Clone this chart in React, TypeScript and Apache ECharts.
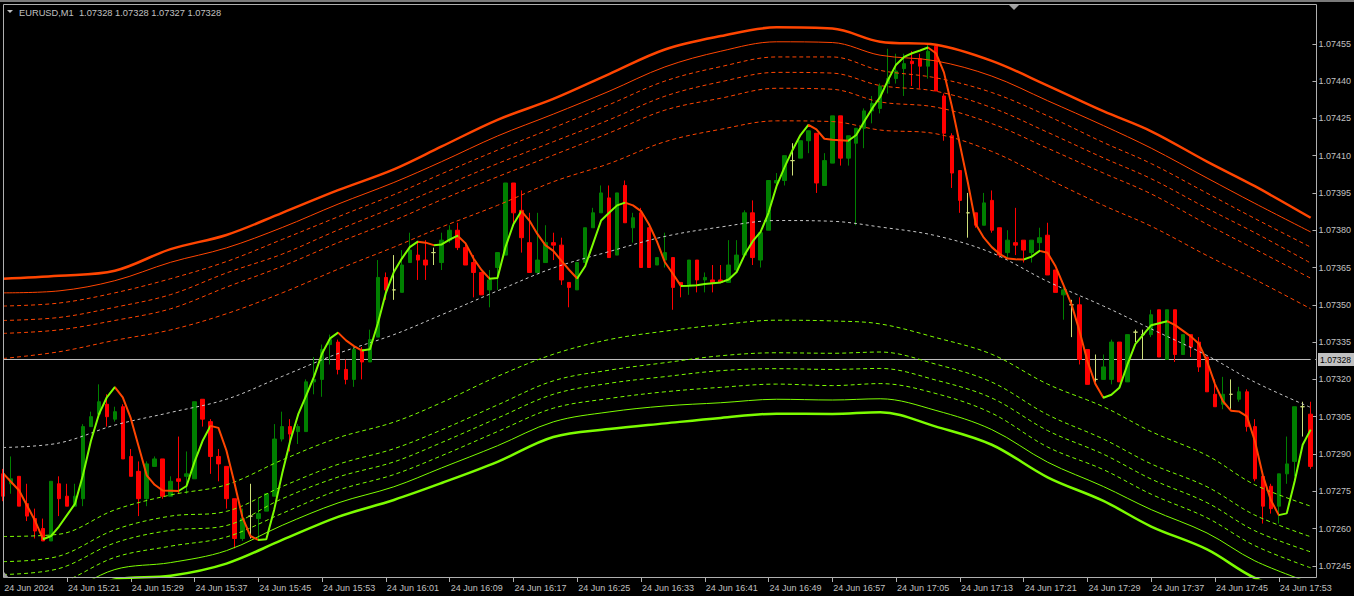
import { useEffect, useRef } from "react";
import * as echarts from "echarts";

// ---------- header / axis texts ----------
const HEADER_TEXT = "EURUSD,M1  1.07328 1.07328 1.07327 1.07328";
const DATE_LABEL = "24 Jun 2024";
const DAY_PREFIX = "24 Jun ";
const FIRST_BAR_MINUTE = 15 * 60 + 13; // 15:13, one M1 bar per category
const BAR_COUNT = 165;
const TIMES: string[] = [];
for (let i = 0; i < BAR_COUNT; i++) {
  const m = FIRST_BAR_MINUTE + i;
  TIMES.push(`${Math.floor(m / 60)}:${String(m % 60).padStart(2, "0")}`);
}
const Y_TICKS = [
  1.07245, 1.0726, 1.07275, 1.0729, 1.07305, 1.0732, 1.07335, 1.0735, 1.07365,
  1.0738, 1.07395, 1.0741, 1.07425, 1.0744, 1.07455,
];
const CURRENT_PRICE = 1.07328;
const Y_MIN = 1.072401;
const Y_MAX = 1.074708;

// ---------- candles (M1) ----------
const OPEN = [
  1.07282,1.07278,1.07281,1.0727,1.07264,1.0726,1.07255,1.07278,1.07273,1.07269,
  1.07272,1.07301,1.07306,1.0731,1.07304,1.07309,1.07289,1.07283,1.07272,1.07285,
  1.07288,1.07273,1.0728,1.07281,1.0728,1.07312,1.07303,1.07289,1.07285,1.07272,
  1.07256,1.07265,1.07264,1.07267,1.07273,1.07296,1.07301,1.07299,1.07299,1.07319,
  1.0732,1.07334,1.07335,1.07324,1.0732,1.07332,1.07327,1.07337,1.07361,1.07356,
  1.07355,1.07367,1.0737,1.07368,1.07371,1.07367,1.07376,1.0738,1.07373,1.07367,
  1.07363,1.07356,1.07365,1.0737,1.07399,1.07388,1.07375,1.07363,1.07367,1.07375,
  1.07374,1.07359,1.07356,1.07367,1.07381,1.07387,1.07393,1.0737,1.07398,1.07381,
  1.07387,1.07381,1.07366,1.07368,1.07369,1.07359,1.07358,1.07368,1.0736,1.0736,
  1.0736,1.07359,1.07364,1.0737,1.07387,1.07368,1.0738,1.07399,1.074,1.07408,
  1.07409,1.07416,1.07419,1.07398,1.07407,1.07426,1.07409,1.07415,1.07421,1.07428,
  1.07429,1.07439,1.07441,1.07445,1.07448,1.07449,1.07446,1.07454,1.07434,1.07418,
  1.07404,1.07387,1.07387,1.07382,1.07392,1.07381,1.07371,1.07375,1.07376,1.07371,
  1.07375,1.07378,1.07364,1.07354,1.0735,1.0735,1.07332,1.0732,1.0732,1.0732,
  1.07335,1.07319,1.07339,1.07338,1.07338,1.07348,1.07328,1.07348,1.0733,1.07338,
  1.07335,1.07329,1.07314,1.0731,1.07314,1.07312,1.07315,1.07301,1.07281,1.07277,
  1.07269,1.07282,1.07287,1.07309,1.07306,
];
const CLOSE = [
  1.07273,1.0728,1.07269,1.07265,1.07259,1.07255,1.07279,1.07272,1.07269,1.07273,
  1.07301,1.07305,1.07311,1.07305,1.07307,1.07288,1.07281,1.07272,1.07286,1.07288,
  1.07273,1.07279,1.07279,1.07282,1.07311,1.07304,1.07289,1.07286,1.07272,1.07256,
  1.07264,1.07265,1.07266,1.07274,1.07296,1.07301,1.07298,1.07301,1.07319,1.0732,
  1.07332,1.07336,1.07324,1.0732,1.07332,1.07327,1.07336,1.07361,1.07356,1.07356,
  1.07366,1.07372,1.07368,1.07366,1.07371,1.07376,1.0738,1.07373,1.07366,1.07363,
  1.07354,1.0736,1.07371,1.07399,1.07387,1.07377,1.07363,1.07368,1.07375,1.07374,
  1.0736,1.07357,1.07367,1.07381,1.07387,1.07395,1.07369,1.07395,1.07383,1.07385,
  1.07365,1.07365,1.07369,1.07371,1.07357,1.07358,1.07368,1.0736,1.07361,1.07359,
  1.07359,1.07366,1.0737,1.07387,1.07369,1.07379,1.074,1.074,1.0741,1.07408,
  1.07416,1.0742,1.07399,1.07408,1.07426,1.07409,1.07418,1.07421,1.07428,1.07431,
  1.07438,1.07441,1.07444,1.07447,1.07447,1.07446,1.07452,1.07436,1.07419,1.07403,
  1.07392,1.07387,1.07382,1.07391,1.0738,1.0737,1.07376,1.07374,1.07372,1.07376,
  1.07377,1.07362,1.07355,1.07356,1.0735,1.07328,1.07318,1.0732,1.07325,1.07335,
  1.07319,1.07338,1.07339,1.07338,1.07346,1.07329,1.07348,1.0733,1.07338,1.07333,
  1.07325,1.07315,1.07309,1.07314,1.07314,1.07315,1.07301,1.0728,1.07269,1.07268,
  1.07282,1.07286,1.07309,1.07309,1.07285,
];
const LOW = [
  1.07271,1.07274,1.07269,1.07263,1.07256,1.07255,1.07255,1.07265,1.07269,1.07269,
  1.07269,1.07301,1.07305,1.07301,1.07303,1.07288,1.07281,1.07265,1.07269,1.07285,
  1.07272,1.07273,1.07274,1.07274,1.0728,1.07301,1.07282,1.07279,1.07268,1.07252,
  1.07255,1.07256,1.07255,1.07267,1.07273,1.07295,1.07291,1.07294,1.07299,1.07314,
  1.07313,1.07326,1.07322,1.07318,1.07317,1.0732,1.07327,1.07337,1.07352,1.07352,
  1.07355,1.07367,1.0736,1.0736,1.07366,1.07364,1.07375,1.07372,1.07366,1.07353,
  1.07354,1.07349,1.07356,1.0737,1.07382,1.07371,1.07363,1.07363,1.07367,1.07368,
  1.07358,1.07349,1.07356,1.07367,1.07381,1.07387,1.07369,1.0737,1.07383,1.07375,
  1.07365,1.07365,1.07366,1.07365,1.07348,1.07353,1.07354,1.07355,1.07355,1.07355,
  1.07359,1.07359,1.07364,1.0737,1.07366,1.07365,1.0738,1.07398,1.07398,1.07402,
  1.07409,1.07411,1.07395,1.07398,1.07407,1.07406,1.07406,1.07382,1.07413,1.07423,
  1.07427,1.07435,1.07439,1.07434,1.07438,1.07437,1.07441,1.07436,1.07416,1.07397,
  1.07387,1.07377,1.07381,1.07382,1.07379,1.07369,1.07369,1.0737,1.07367,1.07367,
  1.07372,1.07362,1.07355,1.07344,1.07337,1.07326,1.07318,1.07319,1.0732,1.07318,
  1.07319,1.07319,1.07335,1.07328,1.07337,1.07329,1.07328,1.07327,1.0733,1.07329,
  1.07323,1.07315,1.07309,1.07308,1.07308,1.07311,1.07299,1.07279,1.07262,1.07266,
  1.07262,1.07278,1.07281,1.07297,1.07284,
];
const HIGH = [
  1.07284,1.07289,1.07281,1.07278,1.07268,1.07264,1.07279,1.07281,1.07278,1.07278,
  1.07302,1.07307,1.07318,1.07314,1.07309,1.0731,1.07292,1.07287,1.07287,1.07289,
  1.07288,1.07281,1.07297,1.07291,1.07311,1.07312,1.07304,1.07292,1.07285,1.07272,
  1.07268,1.07278,1.07272,1.07274,1.07302,1.07307,1.07304,1.07302,1.0732,1.07329,
  1.07334,1.07338,1.07336,1.07328,1.07333,1.07333,1.0734,1.07368,1.07363,1.0737,
  1.07372,1.07379,1.07375,1.07376,1.07373,1.07379,1.07382,1.07383,1.07375,1.0737,
  1.07363,1.07364,1.07371,1.07399,1.07399,1.07396,1.07387,1.07387,1.07382,1.07379,
  1.07377,1.07359,1.07367,1.07381,1.07389,1.07398,1.07398,1.07395,1.074,1.07387,
  1.07389,1.07381,1.07369,1.07379,1.07369,1.07359,1.07368,1.07368,1.07363,1.07366,
  1.07366,1.07376,1.07376,1.07388,1.07392,1.07379,1.074,1.07403,1.0741,1.07415,
  1.07416,1.0742,1.07419,1.07411,1.07426,1.07426,1.07418,1.07421,1.07429,1.07434,
  1.07439,1.07453,1.07451,1.07451,1.07452,1.07451,1.07455,1.07454,1.07435,1.07419,
  1.07404,1.07395,1.07387,1.07395,1.07396,1.07381,1.0738,1.07389,1.07376,1.07376,
  1.07381,1.07383,1.07364,1.07357,1.07352,1.07353,1.07332,1.0733,1.0733,1.07336,
  1.07335,1.07338,1.0734,1.0734,1.07348,1.07348,1.07348,1.07348,1.07338,1.07338,
  1.07337,1.07329,1.0732,1.07321,1.0732,1.07317,1.07316,1.07304,1.07281,1.07278,
  1.07282,1.07297,1.07309,1.07311,1.07311,
];

// ---------- smoothed trend line (one value per bar) ----------
const TREND = [
  1.072822,1.072787,1.072753,1.072692,1.072631,1.072557,1.07257,1.072608,1.072654,1.072699,
  1.072814,1.072952,1.073059,1.073128,1.073169,1.073128,1.073044,1.072929,1.072814,1.072776,
  1.072753,1.072752,1.072751,1.072771,1.072868,1.072952,1.073013,1.073005,1.072914,1.072784,
  1.072646,1.07257,1.072554,1.072557,1.072677,1.072822,1.072952,1.073059,1.073135,1.073212,
  1.073304,1.073365,1.073388,1.073357,1.073334,1.073316,1.073321,1.073426,1.073548,1.073632,
  1.073686,1.073732,1.073754,1.07375,1.07374,1.073743,1.073762,1.073778,1.073747,1.073686,
  1.07364,1.073605,1.073608,1.073732,1.073824,1.073877,1.073839,1.073785,1.07374,1.073717,
  1.073678,1.07364,1.073606,1.073655,1.073747,1.073839,1.07387,1.0739,1.073911,1.0739,
  1.073877,1.073824,1.073755,1.073671,1.073625,1.073576,1.073577,1.073579,1.073584,1.073587,
  1.07359,1.073602,1.073632,1.073701,1.073755,1.073793,1.07387,1.073977,1.074053,1.074122,
  1.074183,1.074224,1.074206,1.074168,1.074164,1.074162,1.07416,1.074183,1.074237,1.07429,
  1.074336,1.074405,1.074466,1.074497,1.074512,1.074523,1.074535,1.074512,1.074435,1.074298,
  1.074145,1.073992,1.073824,1.07377,1.073732,1.073704,1.073686,1.073683,1.073682,1.073694,
  1.073717,1.073709,1.073655,1.073579,1.073502,1.073395,1.073273,1.073181,1.073126,1.073138,
  1.073166,1.073258,1.073342,1.07338,1.073418,1.073426,1.073434,1.073418,1.073395,1.073372,
  1.073342,1.073273,1.073181,1.073112,1.073074,1.073071,1.073051,1.072952,1.072814,1.072715,
  1.072654,1.072661,1.072791,1.072937,1.072998,
];

// ---------- channel lines, read at these bar indexes ----------
const BAND_X = [0,7,14,21,28,35,42,49,55,62,69,76,83,90,97,104,110,117,124,131,138,144,151,157,164];
const UPPER_1 = [1.073605,1.073617,1.073637,1.073724,1.073781,1.07387,1.073961,1.074045,1.074137,1.074244,1.074328,1.074428,1.074527,1.074581,1.074616,1.074611,1.074558,1.074546,1.074481,1.074382,1.074279,1.074198,1.074076,1.073977,1.07385];
const UPPER_2 = [1.073548,1.073556,1.073597,1.073671,1.073729,1.073811,1.073905,1.073992,1.074076,1.074179,1.074267,1.074359,1.074457,1.07452,1.074558,1.074555,1.074504,1.074481,1.07442,1.074321,1.074221,1.07413,1.07401,1.073908,1.073793];
const UPPER_3 = [1.073495,1.073507,1.073548,1.073605,1.073674,1.073763,1.073854,1.073943,1.074027,1.074122,1.074212,1.074305,1.0744,1.074458,1.074497,1.074497,1.074443,1.074413,1.074354,1.07426,1.074153,1.074068,1.073949,1.073847,1.073732];
const UPPER_4 = [1.073437,1.073449,1.07349,1.073541,1.073628,1.073704,1.073801,1.073892,1.073974,1.074068,1.074156,1.074244,1.074339,1.074397,1.074435,1.074432,1.074382,1.074359,1.074293,1.074194,1.074091,1.074007,1.073888,1.07379,1.073668];
const UPPER_5 = [1.073385,1.073399,1.073437,1.073484,1.073571,1.073655,1.07375,1.073839,1.073923,1.074015,1.074102,1.074191,1.074283,1.074331,1.074371,1.074367,1.074316,1.074295,1.074229,1.07413,1.07403,1.073946,1.073824,1.073724,1.073607];
const UPPER_6 = [1.073284,1.073311,1.073357,1.073399,1.073464,1.073548,1.073643,1.073732,1.073813,1.0739,1.073995,1.074068,1.074156,1.074206,1.07424,1.074237,1.074203,1.074188,1.074117,1.074007,1.0739,1.073816,1.073698,1.073602,1.073484];
const CENTER = [1.072926,1.072944,1.073016,1.073067,1.07312,1.073212,1.073304,1.07338,1.07346,1.073556,1.073648,1.073714,1.073775,1.073813,1.073839,1.073836,1.073813,1.073778,1.073709,1.073594,1.073495,1.073403,1.073296,1.073189,1.073087];
const LOWER_1 = [1.072568,1.072577,1.072675,1.072735,1.072776,1.072876,1.072965,1.073028,1.073107,1.073212,1.073301,1.07336,1.073394,1.07342,1.073438,1.073435,1.073423,1.073368,1.073301,1.073181,1.07309,1.07299,1.072894,1.072776,1.07269];
const LOWER_2 = [1.072467,1.072489,1.072595,1.07265,1.072669,1.072769,1.072858,1.072921,1.072997,1.073097,1.073194,1.073237,1.073267,1.073295,1.073307,1.073305,1.07331,1.073261,1.073189,1.073058,1.07296,1.07286,1.072768,1.072654,1.072567];
const LOWER_3 = [1.072415,1.072439,1.072542,1.072593,1.072612,1.07272,1.072807,1.072868,1.072946,1.073044,1.07314,1.073184,1.073211,1.073235,1.073243,1.07324,1.073244,1.073197,1.073125,1.072994,1.072899,1.072799,1.072704,1.072591,1.072506];
const LOWER_4 = [1.072357,1.072381,1.072484,1.072529,1.072566,1.072661,1.072754,1.072817,1.072893,1.07299,1.073084,1.073123,1.07315,1.073168,1.073181,1.073175,1.073183,1.073143,1.073064,1.072928,1.072837,1.072738,1.072643,1.072531,1.072442];
const LOWER_5 = [1.072304,1.072332,1.072435,1.072463,1.072511,1.072613,1.072703,1.072768,1.072844,1.072933,1.073029,1.073069,1.073093,1.073106,1.07312,1.073117,1.073122,1.073075,1.072998,1.072867,1.072769,1.072676,1.072582,1.07247,1.072381];
const LOWER_6 = [1.072247,1.072271,1.072395,1.07241,1.072459,1.072554,1.072647,1.072715,1.072783,1.072868,1.072968,1.073,1.073023,1.073045,1.073062,1.073061,1.073068,1.07301,1.072937,1.072806,1.072711,1.072608,1.072516,1.072401,1.072324];

// ---------- styling ----------
const BG = "#000000";
const TEXT = "#c0c0c0";
const FRAME = "#b0b0b0";
const BULL = "#008000";
const BEAR = "#ff0000";
const DOJI = "#cfe07a";
const UP_LINE = "#7cfc00";
const DOWN_LINE = "#ff4500";
const CENTER_LINE = "#c8c8c8";
const PRICE_LINE = "#c0c0c0";
const FONT = "Liberation Sans, Arial, sans-serif";

const GRID_LEFT = 3.2;
const GRID_TOP = 4.5;
const GRID_W = 1312;
const GRID_H = 573.5;

function band(values: number[]) {
  return BAND_X.map((x, k) => [x, values[k]]);
}

function bandSeries(values: number[], color: string, width: number, type: any) {
  return {
    type: "line",
    data: band(values),
    symbol: "none",
    smooth: 0.35,
    silent: true,
    lineStyle: { color, width, type },
    z: 3,
  };
}

export default function App() {
  const ref = useRef<HTMLDivElement>(null);

  useEffect(() => {
    if (!ref.current) return;
    const chart = echarts.init(ref.current, null, { renderer: "svg" });

    const candles = OPEN.map((o, i) => {
      const v = [o, CLOSE[i], LOW[i], HIGH[i]];
      if (o === CLOSE[i]) {
        return {
          value: v,
          itemStyle: { color: DOJI, color0: DOJI, borderColor: DOJI, borderColor0: DOJI },
        };
      }
      return { value: v };
    });

    // colour runs of the trend line: rising green, falling red
    const pieces: any[] = [];
    let start = 0;
    let dir = TREND[1] >= TREND[0] ? 1 : -1;
    for (let j = 1; j < TREND.length - 1; j++) {
      const d = TREND[j + 1] >= TREND[j] ? 1 : -1;
      if (d !== dir) {
        pieces.push({ gte: start, lt: j, color: dir > 0 ? UP_LINE : DOWN_LINE });
        start = j;
        dir = d;
      }
    }
    pieces.push({ gte: start, lte: TREND.length, color: dir > 0 ? UP_LINE : DOWN_LINE });

    const dash: any = [4, 3];
    const series: any[] = [
      {
        type: "line",
        data: [[0, CURRENT_PRICE], [BAR_COUNT - 1, CURRENT_PRICE]],
        symbol: "none",
        silent: true,
        lineStyle: { color: PRICE_LINE, width: 1, type: "solid" },
        z: 1,
      },
      {
        type: "candlestick",
        data: candles,
        barWidth: 4,
        itemStyle: {
          color: BULL,
          color0: BEAR,
          borderColor: BULL,
          borderColor0: BEAR,
          borderWidth: 1,
        },
        z: 2,
      },
      bandSeries(UPPER_1, DOWN_LINE, 2.5, "solid"),
      bandSeries(UPPER_2, DOWN_LINE, 1, "solid"),
      bandSeries(UPPER_3, DOWN_LINE, 1, dash),
      bandSeries(UPPER_4, DOWN_LINE, 1, dash),
      bandSeries(UPPER_5, DOWN_LINE, 1, dash),
      bandSeries(UPPER_6, DOWN_LINE, 1, dash),
      bandSeries(CENTER, CENTER_LINE, 1, [3, 3]),
      bandSeries(LOWER_1, UP_LINE, 1, dash),
      bandSeries(LOWER_2, UP_LINE, 1, dash),
      bandSeries(LOWER_3, UP_LINE, 1, dash),
      bandSeries(LOWER_4, UP_LINE, 1, dash),
      bandSeries(LOWER_5, UP_LINE, 1, "solid"),
      bandSeries(LOWER_6, UP_LINE, 2.5, "solid"),
    ];
    const trendIndex = series.length;
    series.push({
      type: "line",
      data: TREND,
      symbol: "none",
      silent: true,
      lineStyle: { width: 2 },
      z: 4,
    });

    const baseGraphic: any[] = [
      { id: "topbar", type: "rect", shape: { x: 0, y: 0, width: 1354, height: 2 }, style: { fill: "#7a7a7a" }, z: 100 },
      {
        id: "frame",
        type: "rect",
        shape: { x: 3.5, y: 4.5, width: 1313, height: 573 },
        style: { fill: "none", stroke: FRAME, lineWidth: 1 },
        z: 100,
      },
      {
        id: "menu",
        type: "polygon",
        shape: { points: [[7, 10], [13, 10], [10, 13]] },
        style: { fill: TEXT },
        z: 100,
      },
      {
        id: "header",
        type: "text",
        x: 19,
        y: 12.5,
        style: { text: HEADER_TEXT, fill: TEXT, font: `9.3px ${FONT}`, verticalAlign: "middle", align: "left" },
        z: 100,
      },
      {
        id: "shift",
        type: "polygon",
        shape: { points: [[1009, 5], [1019, 5], [1014, 10]] },
        style: { fill: "#a0a0a0" },
        z: 100,
      },
      {
        id: "corner",
        type: "polygon",
        shape: { points: [[4, 572], [4, 578], [9, 578]] },
        style: { fill: "#a0a0a0" },
        z: 100,
      },
    ];

    chart.setOption({
      animation: false,
      backgroundColor: BG,
      grid: { left: GRID_LEFT, top: GRID_TOP, width: GRID_W, height: GRID_H, containLabel: false },
      xAxis: {
        type: "category",
        data: TIMES,
        boundaryGap: false,
        axisLine: { show: false },
        axisTick: {
          show: true,
          interval: (i: number) => i >= 8 && (i - 8) % 8 === 0,
          length: 4,
          lineStyle: { color: FRAME },
        },
        axisLabel: {
          interval: (i: number) => i === 0 || (i >= 8 && (i - 8) % 8 === 0),
          formatter: (v: string, i: number) => (i === 0 ? DATE_LABEL : DAY_PREFIX + v),
          align: "left",
          color: TEXT,
          fontSize: 9,
          fontFamily: FONT,
          margin: 5,
          padding: [0, 0, 0, 1],
        },
        splitLine: { show: false },
      },
      yAxis: {
        type: "value",
        position: "right",
        min: Y_MIN,
        max: Y_MAX,
        offset: 1.8,
        axisLine: { show: false },
        axisTick: { show: true, customValues: Y_TICKS, length: 4, lineStyle: { color: FRAME } },
        axisLabel: {
          customValues: Y_TICKS,
          formatter: (v: number) => v.toFixed(5),
          color: TEXT,
          fontSize: 9,
          fontFamily: FONT,
          margin: 6,
        },
        splitLine: { show: false },
      },
      visualMap: {
        show: false,
        type: "piecewise",
        seriesIndex: trendIndex,
        dimension: 0,
        pieces,
      },
      series,
      graphic: baseGraphic,
    });

    // current-price tag on the price scale, placed through the y axis scale
    const py = chart.convertToPixel({ yAxisIndex: 0 }, CURRENT_PRICE) as number;
    chart.setOption({
      graphic: [
        ...baseGraphic,
        {
          id: "priceLineExt",
          type: "line",
          shape: { x1: GRID_LEFT + GRID_W, y1: Math.round(py) + 0.5, x2: 1317, y2: Math.round(py) + 0.5 },
          style: { stroke: PRICE_LINE, lineWidth: 1 },
          z: 90,
        },
        {
          id: "priceTag",
          type: "rect",
          shape: { x: 1318, y: py - 6.5, width: 36, height: 13 },
          style: { fill: "#c0c0c0" },
          z: 95,
        },
        {
          id: "priceText",
          type: "text",
          x: 1320,
          y: py + 0.5,
          style: {
            text: CURRENT_PRICE.toFixed(5),
            fill: "#000000",
            font: `8.6px ${FONT}`,
            verticalAlign: "middle",
            align: "left",
          },
          z: 96,
        },
      ],
    });

    return () => chart.dispose();
  }, []);

  return (
    <div
      ref={ref}
      style={{ position: "fixed", left: 0, top: 0, width: 1354, height: 596, background: BG }}
    />
  );
}
